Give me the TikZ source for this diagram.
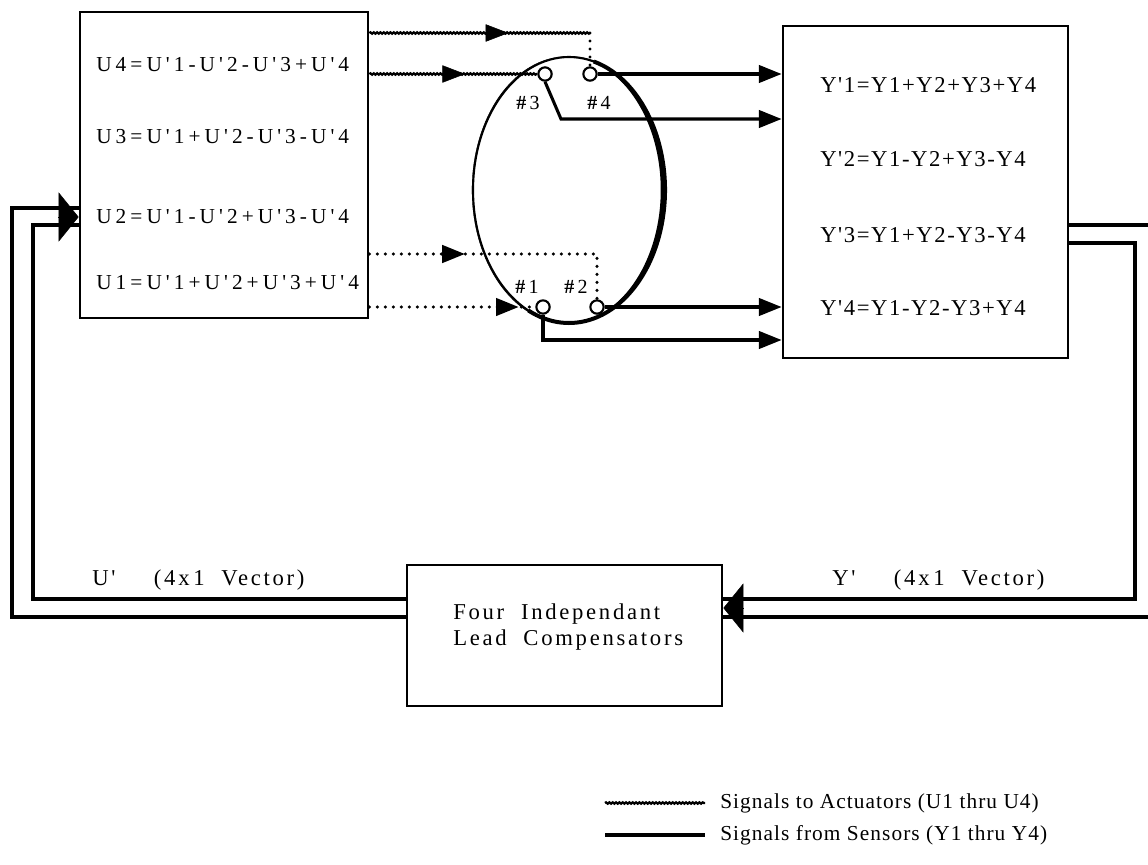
\documentclass[tikz,border=0pt]{standalone}
\usepackage{fontspec}
\setmainfont{Liberation Serif}
\newfontfamily\eqfontU[LetterSpace=19]{Liberation Serif}
\newfontfamily\eqfontY[LetterSpace=7]{Liberation Serif}
\newfontfamily\lblfont[LetterSpace=5]{Liberation Serif}
\newfontfamily\widefont[LetterSpace=12]{Liberation Serif}
\usetikzlibrary{arrows.meta,decorations.pathmorphing,decorations.markings,shapes.geometric}

\begin{document}
\begin{tikzpicture}[x=0.75pt,y=-0.75pt,
    box/.style={draw,line width=2.1pt,inner sep=0pt},
    port/.style={draw,circle,line width=1.6pt,fill=white,minimum size=10pt,inner sep=0pt},
    wavy/.style={line width=1.7pt,decorate,decoration={snake,amplitude=0.5pt,segment length=2.5pt}},
    dots/.style={line width=2.5pt,line cap=round,dash pattern=on 0pt off 6pt},
    sense/.style={line width=2.3pt},
    tip/.style={-{Triangle[length=17pt,width=13pt]}},
    bigtip/.style={-{Triangle[length=15pt,width=37pt]}},
    tipat/.style={postaction={decorate,decoration={markings,mark=at position #1 with {\arrow{Triangle[length=17pt,width=13pt]}}}}},
    eqU/.style={anchor=west,inner sep=0pt,font=\fontsize{16}{18}\eqfontU},
    eqY/.style={anchor=west,inner sep=0pt,font=\fontsize{17}{19}\eqfontY},
    lbl/.style={anchor=west,inner sep=0pt,font=\fontsize{16}{20}\lblfont},
    vec/.style={anchor=west,inner sep=0pt,font=\fontsize{17}{20}\widefont},
    num/.style={inner sep=0pt,font=\fontsize{15}{17}\selectfont}]
  \useasboundingbox (0,0) rectangle (1148,864);

  % boxes
  \node[box,minimum width=216pt,minimum height=229.5pt] (mixU) at (224,165) {};
  \node[box,minimum width=213.75pt,minimum height=249pt] (mixY) at (925.5,192) {};
  \node[box,minimum width=236.25pt,minimum height=105.75pt] (comp) at (564.5,635.5) {};

  % the plate and its four stations
  \node[draw,ellipse,line width=1.6pt,minimum width=144pt,minimum height=199.5pt,inner sep=0pt] (plate) at (569,190) {};
  \fill[even odd rule] (plate.center) ellipse [x radius=72.6pt,y radius=100.3pt]
    ([xshift=-2pt]plate.center) ellipse [x radius=70.8pt,y radius=100pt];
  \draw[line width=3pt] ([shift={(75:72pt and 99.75pt)}]plate.center) arc[start angle=75,end angle=-115,x radius=72pt,y radius=99.75pt];
  \node[port] (s3) at (545,74) {};
  \node[port] (s4) at (590,74) {};
  \node[port] (s1) at (543,307) {};
  \node[port] (s2) at (597,307) {};
  \node[num] (n3) at (528,103) {\textbf{\#}\,3};
  \node[num] (n4) at (599,103) {\textbf{\#}\,4};
  \node[num] (n1) at (527,287) {\textbf{\#}\,1};
  \node[num] (n2) at (576,287) {\textbf{\#}\,2};

  % equations
  \node[eqU] (u4) at (96,65) {U4=U'1-U'2-U'3+U'4};
  \node[eqU] (u3) at (96,137) {U3=U'1+U'2-U'3-U'4};
  \node[eqU] (u2) at (96,217) {U2=U'1-U'2+U'3-U'4};
  \node[eqU] (u1) at (96,283) {U1=U'1+U'2+U'3+U'4};
  \node[eqY] (y1) at (820,85) {Y'1=Y1+Y2+Y3+Y4};
  \node[eqY] (y2) at (820,159) {Y'2=Y1-Y2+Y3-Y4};
  \node[eqY] (y3) at (820,235) {Y'3=Y1+Y2-Y3-Y4};
  \node[eqY] (y4) at (820,308) {Y'4=Y1-Y2-Y3+Y4};

  % signals to actuators
  \draw[wavy] (mixU.east |- 0,33) -- (s4.north |- 0,33);
  \path[tipat=0.63] (mixU.east |- 0,33) -- (s4.north |- 0,33);
  \draw[dots] (s4.north |- 0,33) -- (s4.north);
  \draw[wavy] (mixU.east |- s3.west) -- (s3.west);
  \path[tipat=0.57] (mixU.east |- s3.west) -- (s3.west);
  \draw[dots,tipat=0.35] (mixU.east |- 0,254) -- (s2.north |- 0,254) -- (s2.north);
  \draw[dots,tipat=0.9] (mixU.east |- s1.west) -- (s1.west);

  % signals from sensors
  \draw[sense,tip] (s4.east) -- (mixY.west |- s4.east);
  \draw[sense,tip] (s3.south) -- (561,119) -- (mixY.west |- 0,119);
  \draw[sense,tip] (s2.east) -- (mixY.west |- s2.east);
  \draw[sense,tip] (s1.south) -- (s1.south |- 0,340) -- (mixY.west |- 0,340);

  % feedback loop
  \draw[sense] (mixY.east |- 0,225) -- (1170,225) -- (1170,617) -- (comp.east |- 0,617);
  \draw[sense] (mixY.east |- 0,243) -- (1135,243) -- (1135,599) -- (comp.east |- 0,599);
  \draw[bigtip] (743,608) -- (comp.east |- 0,608);
  \draw[sense] (comp.west |- 0,599) -- (33,599) -- (33,225) -- (mixU.west |- 0,225);
  \draw[sense] (comp.west |- 0,617) -- (12,617) -- (12,208) -- (mixU.west |- 0,208);
  \draw[bigtip] (58,217) -- (mixU.west |- 0,217);

  \node[vec] (ulbl) at (92,580) {U'\hspace{1.7em}(4x\,1\ \ Vector)};
  \node[vec] (ylbl) at (832,580) {Y'\hspace{1.7em}(4x\,1\ \ Vector)};
  \node[vec,align=left] (ctext) at (453,627) {Four\ \ Independant\\Lead\ \ Compensators};

  % legend
  \coordinate (k1a) at (605,803);
  \coordinate (k1b) at (705,803);
  \coordinate (k2a) at (605,835);
  \coordinate (k2b) at (705,835);
  \draw[wavy] (k1a) -- (k1b);
  \draw[sense] (k2a) -- (k2b);
  \node[lbl] (key1) at (720,803) {Signals\ to\ Actuators\ (U1\ thru\ U4)};
  \node[lbl] (key2) at (720,835) {Signals\ from\ Sensors\ (Y1\ thru\ Y4)};
\end{tikzpicture}
\end{document}
